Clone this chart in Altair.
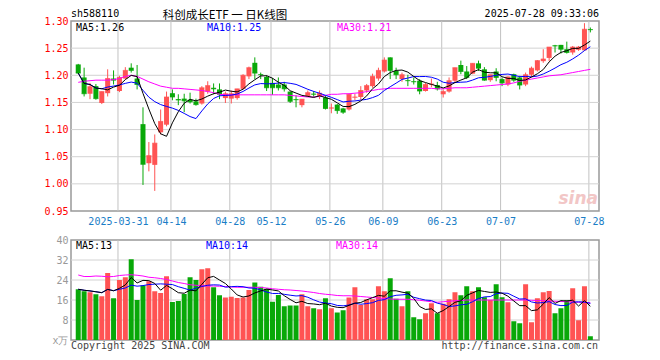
import altair as alt
import pandas as pd

# ---------------- data ----------------
opens = [1.220, 1.196, 1.166, 1.180, 1.149, 1.167, 1.194, 1.171, 1.194, 1.214,
         1.194, 1.110, 1.038, 1.035, 1.095, 1.109, 1.167, 1.156, 1.157, 1.155,
         1.152, 1.148, 1.170, 1.177, 1.174, 1.158, 1.157, 1.158, 1.175, 1.198,
         1.223, 1.202, 1.197, 1.186, 1.183, 1.183, 1.170, 1.156, 1.145, 1.162,
         1.166, 1.162, 1.159, 1.139, 1.146, 1.139, 1.137, 1.159, 1.160, 1.172,
         1.180, 1.194, 1.207, 1.233, 1.208, 1.193, 1.191, 1.189, 1.190, 1.171,
         1.183, 1.182, 1.165, 1.170, 1.190, 1.219, 1.207, 1.203, 1.222, 1.211,
         1.191, 1.207, 1.193, 1.183, 1.202, 1.196, 1.183, 1.201, 1.209, 1.226,
         1.232, 1.255, 1.256, 1.248, 1.242, 1.247, 1.246, 1.285]
closes = [1.204, 1.166, 1.179, 1.157, 1.170, 1.194, 1.191, 1.196, 1.209, 1.209,
          1.183, 1.036, 1.052, 1.075, 1.115, 1.160, 1.160, 1.1545, 1.153, 1.151,
          1.146, 1.177, 1.181, 1.175, 1.165, 1.166, 1.166, 1.175, 1.200, 1.214,
          1.204, 1.201, 1.177, 1.177, 1.177, 1.175, 1.152, 1.155, 1.156, 1.168,
          1.165, 1.167, 1.139, 1.140, 1.135, 1.132, 1.165, 1.160, 1.172, 1.181,
          1.198, 1.209, 1.228, 1.209, 1.201, 1.201, 1.190, 1.188, 1.171, 1.183,
          1.184, 1.175, 1.170, 1.190, 1.214, 1.207, 1.196, 1.222, 1.213, 1.191,
          1.201, 1.196, 1.186, 1.197, 1.191, 1.182, 1.201, 1.213, 1.227, 1.230,
          1.252, 1.254, 1.248, 1.242, 1.252, 1.252, 1.285, 1.284]
highs = [1.221, 1.214, 1.186, 1.184, 1.170, 1.211, 1.209, 1.199, 1.215, 1.222,
         1.219, 1.141, 1.077, 1.091, 1.137, 1.170, 1.174, 1.165, 1.166, 1.168,
         1.157, 1.180, 1.189, 1.185, 1.185, 1.170, 1.172, 1.175, 1.202, 1.216,
         1.233, 1.205, 1.200, 1.195, 1.196, 1.188, 1.170, 1.163, 1.156, 1.172,
         1.171, 1.172, 1.163, 1.148, 1.147, 1.140, 1.166, 1.166, 1.180, 1.184,
         1.203, 1.214, 1.233, 1.233, 1.214, 1.205, 1.201, 1.196, 1.193, 1.186,
         1.194, 1.188, 1.174, 1.196, 1.214, 1.227, 1.217, 1.222, 1.227, 1.215,
         1.201, 1.213, 1.196, 1.198, 1.203, 1.199, 1.205, 1.216, 1.228, 1.248,
         1.252, 1.256, 1.256, 1.262, 1.254, 1.254, 1.296, 1.288]
lows = [1.203, 1.161, 1.156, 1.155, 1.147, 1.161, 1.183, 1.169, 1.193, 1.205,
        1.174, 0.998, 1.023, 0.987, 1.091, 1.106, 1.154, 1.145, 1.132, 1.148,
        1.144, 1.146, 1.166, 1.165, 1.156, 1.149, 1.148, 1.155, 1.174, 1.193,
        1.193, 1.193, 1.171, 1.164, 1.172, 1.170, 1.149, 1.141, 1.141, 1.160,
        1.160, 1.156, 1.137, 1.130, 1.129, 1.129, 1.135, 1.154, 1.155, 1.168,
        1.177, 1.190, 1.205, 1.193, 1.193, 1.188, 1.180, 1.183, 1.165, 1.170,
        1.178, 1.172, 1.159, 1.168, 1.187, 1.202, 1.193, 1.202, 1.208, 1.190,
        1.188, 1.189, 1.180, 1.180, 1.188, 1.174, 1.180, 1.197, 1.207, 1.223,
        1.226, 1.242, 1.240, 1.240, 1.238, 1.245, 1.245, 1.279]
volumes = [20.3, 19.5, 19.1, 18.3, 17.5, 26.8, 16.7, 24.0, 25.1, 32.3,
           16.0, 21.8, 23.5, 19.5, 18.8, 25.5, 15.2, 15.6, 18.4, 25.1,
           24.0, 28.3, 28.7, 21.1, 17.9, 17.0, 17.3, 16.8, 17.0, 20.0,
           23.0, 21.3, 20.5, 15.3, 18.0, 13.5, 13.8, 13.8, 18.3, 13.5,
           12.7, 12.3, 16.7, 12.7, 11.0, 11.9, 17.0, 21.1, 14.0, 16.3,
           16.3, 21.5, 19.5, 24.7, 16.5, 13.5, 19.5, 9.1, 8.3, 10.7,
           14.7, 10.7, 14.5, 16.3, 19.1, 17.9, 21.5, 19.5, 21.1, 17.1,
           16.0, 22.3, 17.1, 15.1, 7.5, 6.7, 22.3, 7.1, 16.7, 19.1,
           19.6, 10.7, 12.7, 15.9, 20.7, 7.9, 21.5, 1.5]
# 30-day averages as drawn (they need history before the first candle)
ma30_price = [1.187, 1.189, 1.190, 1.191, 1.191, 1.191, 1.192, 1.194, 1.198, 1.200,
              1.198, 1.193, 1.188, 1.184, 1.180, 1.178, 1.176, 1.176, 1.175, 1.174,
              1.173, 1.172, 1.170, 1.168, 1.165, 1.164, 1.164, 1.164, 1.164, 1.164,
              1.164, 1.164, 1.164, 1.164, 1.164, 1.164, 1.163, 1.162, 1.161, 1.160,
              1.160, 1.161, 1.163, 1.165, 1.165, 1.166, 1.166, 1.167, 1.168, 1.170,
              1.172, 1.174, 1.175, 1.176, 1.176, 1.176, 1.176, 1.176, 1.176, 1.176,
              1.176, 1.175, 1.175, 1.176, 1.177, 1.177, 1.177, 1.178, 1.179, 1.180,
              1.181, 1.182, 1.183, 1.184, 1.186, 1.189, 1.191, 1.193, 1.195, 1.197,
              1.199, 1.200, 1.201, 1.203, 1.205, 1.207, 1.209, 1.211]
ma30_vol = [26.0, 25.4, 25.4, 25.6, 25.5, 25.3, 25.4, 25.8, 26.0, 26.1,
            25.9, 25.6, 25.1, 24.9, 24.6, 24.2, 23.6, 23.0, 22.6, 22.1,
            21.9, 21.7, 21.6, 21.6, 21.5, 21.4, 21.2, 21.1, 21.1, 21.1,
            21.1, 21.0, 20.8, 20.5, 20.3, 20.1, 20.0, 19.8, 19.6, 19.3,
            19.0, 18.6, 18.3, 18.1, 17.8, 17.7, 17.7, 17.6, 17.4, 17.2,
            17.0, 16.8, 16.6, 16.4, 16.3, 16.3, 16.3, 16.1, 15.9, 15.6,
            15.3, 15.1, 15.3, 15.5, 15.7, 15.8, 16.0, 16.0, 16.0, 16.0,
            16.0, 16.0, 16.0, 16.0, 16.0, 16.0, 16.0, 15.9, 15.8, 15.7,
            15.6, 15.5, 15.4, 15.3, 15.2, 15.1, 15.0, 14.9]

tick_idx = [7, 16, 26, 33, 43, 52, 62, 72, 87]
tick_labels = ["2025-03-31", "04-14", "04-28", "05-12", "05-26", "06-09", "06-23", "07-07", "07-28"]
price_ticks = [0.95, 1.00, 1.05, 1.10, 1.15, 1.20, 1.25, 1.30]
price_grid = [1.00, 1.05, 1.10, 1.15, 1.20, 1.25]
vol_ticks = [0, 8, 16, 24, 32, 40]
vol_grid = [8, 16, 24, 32]

header_left = "sh588110"
header_title = "科创成长ETF 一 日K线图"
header_time = "2025-07-28 09:33:06"
price_legend = ["MA5:1.26", "MA10:1.25", "MA30:1.21"]
vol_legend = ["MA5:13", "MA10:14", "MA30:14"]
footer_left = "Copyright 2025 SINA.COM"
footer_right = "http://finance.sina.com.cn"

# ---------------- build ----------------
n = len(closes)
df = pd.DataFrame({
    "i": list(range(n)), "open": opens, "high": highs, "low": lows,
    "close": closes, "vol": volumes, "ma30": ma30_price, "vma30": ma30_vol,
})
df["dir"] = ["up" if c >= o else "down" for o, c in zip(opens, closes)]

RED = "#FF5353"
GREEN = "#08A808"
MONO = "DejaVu Sans Mono"
W, H1, H2 = 528, 190, 100

tick_pos = [t - 0.25 for t in tick_idx]
lab_expr = "''"
for p, lab in reversed(list(zip(tick_pos, tick_labels))):
    lab_expr = f"abs(datum.value - {p}) < 0.01 ? '{lab}' : {lab_expr}"

xscale = alt.Scale(domain=[-0.38, 87.62], nice=False, zero=False)
color = alt.Color("dir:N", scale=alt.Scale(domain=["up", "down"], range=[RED, GREEN]), legend=None)

x_top_axis = alt.Axis(values=tick_pos, labelExpr=lab_expr, grid=False,
                      ticks=False, domain=False, labelColor="#1a7dc6",
                      labelFont=MONO, labelFontSize=10, labelPadding=5,
                      labelOverlap=False, labelFlush=False, title=None)
x_top = alt.X("i:Q", scale=xscale, axis=x_top_axis, title=None)

pscale = alt.Scale(domain=[0.95, 1.30], nice=False, zero=False)
y_price_axis = alt.Axis(values=price_ticks, format=".2f", labelColor="#FF0000", labelFont=MONO,
                        labelFontSize=10, ticks=False, domain=False, grid=False,
                        labelPadding=3, title=None)


def py(field):
    return alt.Y(field, scale=pscale, axis=y_price_axis, title=None)


base = alt.Chart(df)


def vgrid(height, axis):
    # vertical date lines, one rule per date tick
    return alt.Chart(pd.DataFrame({"p": tick_pos})).mark_rule(
        stroke="#c2c2c2", strokeWidth=1).encode(
        x=alt.X("p:Q", scale=xscale, axis=axis, title=None),
        y=alt.value(0), y2=alt.value(height))


def hgrid(values, yenc):
    return alt.Chart(pd.DataFrame({"g": values})).mark_rule(
        stroke="#d2d2d2", strokeWidth=1).encode(
        y=yenc, x=alt.value(0), x2=alt.value(W))


wicks = base.mark_rule(strokeWidth=1).encode(x=x_top, y=py("low:Q"), y2="high:Q", color=color)
bodies = base.mark_bar(size=5).encode(x=x_top, y=py("open:Q"), y2="close:Q", color=color)
flat = base.mark_tick(size=5, thickness=1, orient="horizontal").encode(
    x=x_top, y=py("close:Q"), color=color)
ma5 = base.transform_window(ma5="mean(close)", frame=[-4, 0], sort=[alt.SortField("i")]).mark_line(
    color="black", strokeWidth=1).encode(x=x_top, y=py("ma5:Q"))
ma10 = base.transform_window(ma10="mean(close)", frame=[-9, 0], sort=[alt.SortField("i")]).mark_line(
    color="#0000FF", strokeWidth=1).encode(x=x_top, y=py("ma10:Q"))
ma30 = base.mark_line(color="#FF00FF", strokeWidth=1).encode(x=x_top, y=py("ma30:Q"))


def label(text, x, y, color="black", align="left", size=10, font=MONO, **kw):
    return alt.Chart(pd.DataFrame({"t": [text]})).mark_text(
        align=align, baseline="middle", font=font, fontSize=size, color=color, **kw
    ).encode(x=alt.value(x), y=alt.value(y), text="t:N")


top_texts = [
    label(header_left, 0, -7),
    label(header_title, 154, -5.5, align="center", size=11.5, font="Noto Sans CJK SC"),
    label(header_time, 528, -7, align="right"),
    label(price_legend[0], 5, 6.5, "black"),
    label(price_legend[1], 136, 6.5, "#0000FF"),
    label(price_legend[2], 266, 6.5, "#FF00FF"),
    label("sina", 527, 178, "#f2c6c6", align="right", size=17, font="DejaVu Sans",
          fontStyle="italic", fontWeight="bold"),
]

top = alt.layer(vgrid(H1, x_top_axis), hgrid(price_grid, py("g:Q")),
                wicks, bodies, flat, ma30, ma10, ma5,
                *top_texts).properties(width=W, height=H1)

vscale = alt.Scale(domain=[0, 40], nice=False, zero=True)
x_bot_axis = alt.Axis(values=tick_pos, labels=False, grid=False,
                      ticks=False, domain=False, title=None)
x_bot = alt.X("i:Q", scale=xscale, axis=x_bot_axis, title=None)
y_vol_axis = alt.Axis(values=vol_ticks, labelExpr="datum.value == 0 ? 'x万' : datum.label",
                      labelColor="#999999", labelFont=MONO, labelFontSize=10, ticks=False,
                      domain=False, grid=False, labelPadding=3, title=None)


def vy(field):
    return alt.Y(field, scale=vscale, axis=y_vol_axis, title=None)


vbars = base.mark_bar(size=5).encode(x=x_bot, y=vy("vol:Q"), color=color)
vma5 = base.transform_window(v5="mean(vol)", frame=[-4, 0], sort=[alt.SortField("i")]).mark_line(
    color="black", strokeWidth=1).encode(x=x_bot, y=vy("v5:Q"))
vma10 = base.transform_window(v10="mean(vol)", frame=[-9, 0], sort=[alt.SortField("i")]).mark_line(
    color="#0000FF", strokeWidth=1).encode(x=x_bot, y=vy("v10:Q"))
vma30 = base.mark_line(color="#FF00FF", strokeWidth=1).encode(x=x_bot, y=vy("vma30:Q"))

bot_texts = [
    label(vol_legend[0], 5, 6, "black"),
    label(vol_legend[1], 135, 6, "#0000FF"),
    label(vol_legend[2], 265, 6, "#FF00FF"),
    label(footer_left, 0, 106, "#444444"),
    label(footer_right, 527, 106, "#444444", align="right"),
]

bottom = alt.layer(vgrid(H2, x_bot_axis), hgrid(vol_grid, vy("g:Q")),
                   vbars, vma30, vma10, vma5,
                   *bot_texts).properties(width=W, height=H2)

chart = alt.vconcat(top, bottom, spacing=7).properties(
    padding={"left": 35, "top": 0, "right": 0, "bottom": 0},
    background="white",
).configure_view(stroke="#999999", strokeWidth=1.5)

chart.save("out.html", embed_options={"renderer": "svg", "actions": False})
